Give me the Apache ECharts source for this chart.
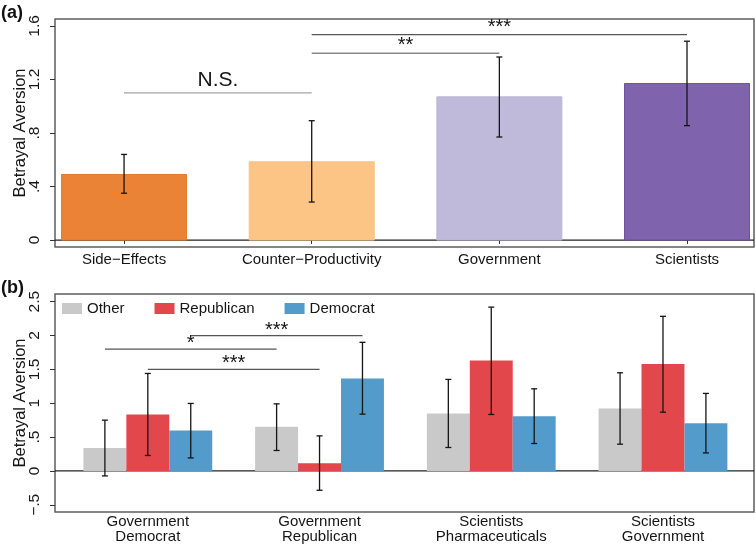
<!DOCTYPE html>
<html><head><meta charset="utf-8">
<script src="https://cdn.jsdelivr.net/npm/echarts@6/dist/echarts.min.js"></script>
<style>html,body{margin:0;padding:0;background:#fff}#c{width:756px;height:548px}</style>
</head><body><div id="c"></div>
<script>
// ---------- Panel (a) data ----------
const catsA = ['Side\u2212Effects', 'Counter\u2212Productivity', 'Government', 'Scientists'];
const meanA = [0.49, 0.585, 1.07, 1.17];
const loA   = [0.35, 0.284, 0.77, 0.855];
const hiA   = [0.64, 0.892, 1.368, 1.486];
const ticksA = [0, 0.4, 0.8, 1.2, 1.6];
const tickLabelsA = ['0', '.4', '.8', '1.2', '1.6'];
// significance brackets: [from category, to category, level, label]
const sigA = [[1, 2, 1.10, 'N.S.'], [2, 3, 1.396, '**'], [2, 4, 1.535, '***']];

// ---------- Panel (b) data ----------
const catsB = ['Government\nDemocrat', 'Government\nRepublican', 'Scientists\nPharmaceuticals', 'Scientists\nGovernment'];
const groupsB = ['Other', 'Republican', 'Democrat'];
const otherMean = [0.34, 0.651, 0.849, 0.923];
const otherLo   = [-0.074, 0.302, 0.346, 0.395];
const otherHi   = [0.75, 0.991, 1.352, 1.45];
const repMean = [0.834, 0.114, 1.633, 1.578];
const repLo   = [0.228, -0.286, 0.834, 0.868];
const repHi   = [1.44, 0.518, 2.42, 2.284];
const demMean = [0.598, 1.367, 0.809, 0.706];
const demLo   = [0.192, 0.839, 0.405, 0.266];
const demHi   = [0.997, 1.90, 1.213, 1.145];
const ticksB = [-0.5, 0, 0.5, 1, 1.5, 2, 2.5];
const tickLabelsB = ['\u2212.5', '0', '.5', '1', '1.5', '2', '2.5'];
// significance brackets: [from category, from group, to category, to group, level, label]
const sigB = [[1, 0, 2, 0, 1.8, '*'], [1, 2, 2, 2, 2.0, '***'], [1, 1, 2, 1, 1.5, '***']];

// ---------- styles ----------
const FONT = "'Liberation Sans', Arial, Helvetica, sans-serif";
const TXT = '#151515';
const colorsA = ['#EA8336', '#FDC585', '#BFBADA', '#7F63AC'];
const edgeA = ['#E27A2C', '#F8C283', '#BAB5D6', '#6E52A0'];
const sigLineColA = ['#a3a3a3', '#8a8a8a', '#555555'];
const colorsB = ['#C9C9C9', '#E1474B', '#539BCA'];
const offsetB = [-0.25, 0, 0.25];
const barWA = 0.666, barWB = 0.25;

const meansB = [otherMean, repMean, demMean];
const losB = [otherLo, repLo, demLo];
const hisB = [otherHi, repHi, demHi];

function errBar(api, x, lo, hi) {
  const a = api.coord([x, hi]), b = api.coord([x, lo]);
  const cap = 3;
  const st = { stroke: '#151515', lineWidth: 1.3 };
  return [
    { type: 'line', shape: { x1: a[0], y1: a[1], x2: b[0], y2: b[1] }, style: st },
    { type: 'line', shape: { x1: a[0] - cap, y1: a[1], x2: a[0] + cap, y2: a[1] }, style: st },
    { type: 'line', shape: { x1: b[0] - cap, y1: b[1], x2: b[0] + cap, y2: b[1] }, style: st }
  ];
}
function barRect(api, x, w, v, fill, stroke) {
  const p0 = api.coord([x - w / 2, 0]), p1 = api.coord([x + w / 2, v]);
  return { type: 'rect',
    shape: { x: p0[0], y: Math.min(p0[1], p1[1]), width: p1[0] - p0[0], height: Math.abs(p1[1] - p0[1]) },
    style: { fill: fill, stroke: stroke || null, lineWidth: stroke ? 1 : 0 } };
}
function zeroLine(xi) {
  return { type: 'custom', xAxisIndex: xi, yAxisIndex: xi, z: 1, silent: true,
    data: [[1, 0]], encode: { x: 0, y: 1 },
    renderItem: (params, api) => {
      const cs = params.coordSys; const y = api.coord([1, 0])[1];
      return { type: 'line', shape: { x1: cs.x, y1: y, x2: cs.x + cs.width, y2: y }, style: { stroke: '#222', lineWidth: 1.2 } };
    } };
}
function lookup(ticks, labels) {
  return v => { const i = ticks.findIndex(t => Math.abs(t - v) < 1e-6); return i >= 0 ? labels[i] : ''; };
}

const series = [];
series.push(zeroLine(0));
series.push({
  type: 'custom', name: 'A', xAxisIndex: 0, yAxisIndex: 0, z: 2,
  data: catsA.map((c, i) => [i + 1, meanA[i], loA[i], hiA[i]]),
  encode: { x: 0, y: 1 },
  renderItem: (params, api) => {
    const i = params.dataIndex, x = api.value(0);
    return { type: 'group', children: [barRect(api, x, barWA, api.value(1), colorsA[i], edgeA[i])].concat(errBar(api, x, api.value(2), api.value(3))) };
  }
});
series.push({
  type: 'custom', xAxisIndex: 0, yAxisIndex: 0, z: 3, silent: true,
  data: sigA.map(s => [s[0], s[2]]), encode: { x: 0, y: 1 },
  renderItem: (params, api) => {
    const s = sigA[params.dataIndex];
    const p1 = api.coord([s[0], s[2]]), p2 = api.coord([s[1], s[2]]);
    const ns = s[3] === 'N.S.';
    return { type: 'group', children: [
      { type: 'line', shape: { x1: p1[0], y1: p1[1], x2: p2[0], y2: p2[1] }, style: { stroke: sigLineColA[params.dataIndex], lineWidth: 1.3 } },
      { type: 'text', x: (p1[0] + p2[0]) / 2, y: p1[1] - (ns ? 12.5 : 7.5),
        style: { text: s[3], fontFamily: FONT, fontSize: ns ? 21 : 20, fill: TXT, align: 'center', verticalAlign: 'middle' } }
    ] };
  }
});
series.push(zeroLine(1));
groupsB.forEach((g, k) => {
  series.push({
    type: 'custom', name: g, xAxisIndex: 1, yAxisIndex: 1, z: 2,
    itemStyle: { color: colorsB[k] },
    data: catsB.map((c, i) => [i + 1, meansB[k][i], losB[k][i], hisB[k][i]]),
    encode: { x: 0, y: 1 },
    renderItem: (params, api) => {
      const x = api.value(0) + offsetB[k];
      return { type: 'group', children: [barRect(api, x, barWB, api.value(1), colorsB[k])].concat(errBar(api, x, api.value(2), api.value(3))) };
    }
  });
});
series.push({
  type: 'custom', xAxisIndex: 1, yAxisIndex: 1, z: 3, silent: true,
  data: sigB.map(s => [s[0], s[4]]), encode: { x: 0, y: 1 },
  renderItem: (params, api) => {
    const s = sigB[params.dataIndex];
    const p1 = api.coord([s[0] + offsetB[s[1]], s[4]]), p2 = api.coord([s[2] + offsetB[s[3]], s[4]]);
    return { type: 'group', children: [
      { type: 'line', shape: { x1: p1[0], y1: p1[1], x2: p2[0], y2: p2[1] }, style: { stroke: '#555', lineWidth: 1.2 } },
      { type: 'text', x: (p1[0] + p2[0]) / 2, y: p1[1] - 5.5,
        style: { text: s[5], fontFamily: FONT, fontSize: 20, fill: TXT, align: 'center', verticalAlign: 'middle' } }
    ] };
  }
});

const yLabelStyle = { rotate: 90, margin: 12, fontSize: 15.5, color: TXT, fontFamily: FONT };
const nameStyle = { fontSize: 16.5, color: TXT, fontFamily: FONT };

const gridCommon = { left: 55, right: 2, show: true, borderColor: '#5e5e5e', borderWidth: 1.5, backgroundColor: 'transparent', containLabel: false, outerBoundsMode: 'none' };
const option = {
  animation: false,
  backgroundColor: '#fff',
  textStyle: { fontFamily: FONT },
  grid: [
    Object.assign({ top: 19, bottom: 301 }, gridCommon),
    Object.assign({ top: 294, bottom: 36 }, gridCommon)
  ],
  xAxis: [
    { type: 'value', gridIndex: 0, min: 0.632, max: 4.357,
      axisLine: { show: false }, splitLine: { show: false },
      axisTick: { customValues: [1, 2, 3, 4], length: 4, lineStyle: { color: '#333' } },
      axisLabel: { customValues: [1, 2, 3, 4], formatter: v => catsA[Math.round(v) - 1], margin: 5, fontSize: 15, color: TXT, fontFamily: FONT } },
    { type: 'value', gridIndex: 1, min: 0.4595, max: 4.53,
      axisLine: { show: false }, splitLine: { show: false },
      axisTick: { show: false },
      axisLabel: { customValues: [1, 2, 3, 4], formatter: v => catsB[Math.round(v) - 1], margin: 2, fontSize: 15, lineHeight: 15, color: TXT, fontFamily: FONT } }
  ],
  yAxis: [
    { type: 'value', gridIndex: 0, min: -0.052, max: 1.652,
      name: 'Betrayal Aversion', nameLocation: 'middle', nameGap: 26, nameMoveOverlap: false, nameTextStyle: nameStyle,
      axisLine: { show: false }, splitLine: { show: false },
      axisTick: { customValues: ticksA, length: 5, lineStyle: { color: '#333' } },
      axisLabel: Object.assign({ customValues: ticksA, formatter: lookup(ticksA, tickLabelsA) }, yLabelStyle) },
    { type: 'value', gridIndex: 1, min: -0.607, max: 2.614,
      name: 'Betrayal Aversion', nameLocation: 'middle', nameGap: 26, nameMoveOverlap: false, nameTextStyle: nameStyle,
      axisLine: { show: false }, splitLine: { show: false },
      axisTick: { customValues: ticksB, length: 5, lineStyle: { color: '#333' } },
      axisLabel: Object.assign({ customValues: ticksB, formatter: lookup(ticksB, tickLabelsB) }, yLabelStyle) }
  ],
  legend: {
    data: groupsB, left: 62, top: 301, padding: 0, itemWidth: 20, itemHeight: 11, itemGap: 30,
    icon: 'rect', selectedMode: false,
    textStyle: { fontSize: 15, color: TXT, fontFamily: FONT }
  },
  graphic: [
    { type: 'text', x: 1, y: 13.5, style: { text: '(a)', fontFamily: FONT, fontSize: 18, fontWeight: 'bold', fill: '#111', verticalAlign: 'middle' } },
    { type: 'text', x: 1, y: 288.5, style: { text: '(b)', fontFamily: FONT, fontSize: 18, fontWeight: 'bold', fill: '#111', verticalAlign: 'middle' } }
  ],
  series: series
};
const chart = echarts.init(document.getElementById('c'));
chart.setOption(option);
</script>
</body></html>
